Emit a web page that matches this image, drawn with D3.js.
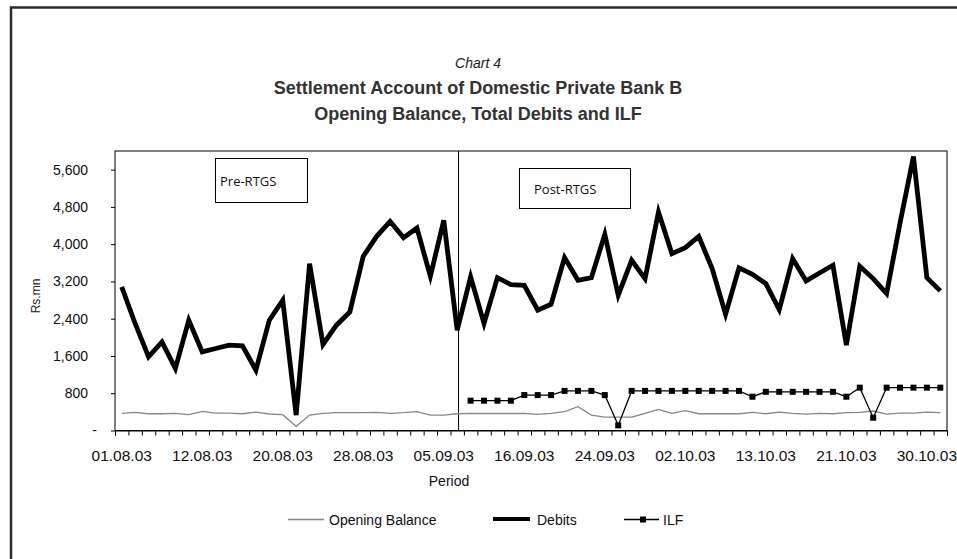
<!DOCTYPE html>
<html>
<head>
<meta charset="utf-8">
<script src="https://cdn.jsdelivr.net/npm/d3@7/dist/d3.min.js"></script>
<style>
  html, body { margin: 0; padding: 0; background: #fff; }
  svg { display: block; font-family: "Liberation Sans", Arial, sans-serif; }
</style>
</head>
<body>
<svg id="chart" width="957" height="559"></svg>
<script>
// Business days, 1 Aug – 31 Oct 2003
const dates = [
  "01.08.03","04.08.03","05.08.03","06.08.03","07.08.03","08.08.03",
  "12.08.03","13.08.03","14.08.03","15.08.03","18.08.03","19.08.03",
  "20.08.03","21.08.03","22.08.03","25.08.03","26.08.03","27.08.03",
  "28.08.03","29.08.03","01.09.03","02.09.03","03.09.03","04.09.03",
  "05.09.03","08.09.03","09.09.03","11.09.03","12.09.03","15.09.03",
  "16.09.03","17.09.03","18.09.03","19.09.03","22.09.03","23.09.03",
  "24.09.03","25.09.03","26.09.03","29.09.03","30.09.03","01.10.03",
  "02.10.03","03.10.03","06.10.03","07.10.03","08.10.03","09.10.03",
  "13.10.03","14.10.03","15.10.03","16.10.03","17.10.03","20.10.03",
  "21.10.03","22.10.03","23.10.03","27.10.03","28.10.03","29.10.03",
  "30.10.03","31.10.03"
];

// Rs. mn
const openingBalance = [
  368,390,360,360,368,339,411,375,375,360,396,354,
  339,90,332,368,382,382,382,390,368,382,404,332,
  332,360,368,365,365,365,368,346,368,404,511,332,
  289,289,289,368,454,368,425,360,360,360,360,390,
  360,396,368,353,368,360,382,390,418,353,375,375,
  396,382
];

const debits = [
  3082,2297,1582,1903,1332,2368,1689,1761,1832,1818,1297,2368,
  2797,330,3583,1847,2261,2546,3740,4168,4490,4140,4347,3311,
  4511,2154,3297,2297,3282,3132,3118,2582,2711,3711,3225,3282,
  4211,2904,3654,3261,4690,3797,3925,4168,3475,2497,3490,3354,
  3154,2597,3690,3211,3382,3547,1832,3525,3261,2940,4454,5883,
  3282,2997
];

// Intraday liquidity facility, available from RTGS go-live
const ilf = [
  null,null,null,null,null,null,null,null,null,null,null,null,
  null,null,null,null,null,null,null,null,null,null,null,null,
  null,null,640,640,640,640,760,760,760,850,850,850,
  760,110,850,850,850,850,850,850,850,850,850,725,
  830,830,830,830,830,830,725,920,275,920,920,920,
  920,920
];

const yTicks = [0, 800, 1600, 2400, 3200, 4000, 4800, 5600];
const xLabelEvery = 6;
const rtgsStart = 25; // index of 08.09.03

const svg = d3.select("#chart");

// outer frame
svg.append("rect")
  .attr("x", 11).attr("y", 7.5)
  .attr("width", 990).attr("height", 600)
  .attr("fill", "none").attr("stroke", "#2b2b2b").attr("stroke-width", 2.5);

// titles
svg.append("text").attr("x", 478).attr("y", 68)
  .attr("text-anchor", "middle").attr("font-style", "italic")
  .attr("font-size", 14).attr("fill", "#222").text("Chart 4");
svg.append("text").attr("x", 478).attr("y", 94)
  .attr("text-anchor", "middle").attr("font-weight", "bold")
  .attr("font-size", 18).attr("fill", "#333")
  .text("Settlement Account of Domestic Private Bank B");
svg.append("text").attr("x", 478).attr("y", 120)
  .attr("text-anchor", "middle").attr("font-weight", "bold")
  .attr("font-size", 18).attr("fill", "#333")
  .text("Opening Balance, Total Debits and ILF");

// plot area
const L = 115, R = 947, T = 151, B = 430.5;
const n = dates.length;
const xb = d3.scaleLinear().domain([0, n]).range([L, R]);
const xc = i => xb(i + 0.5);
const y = d3.scaleLinear().domain([0, 6000]).range([B, T]);

svg.append("rect")
  .attr("x", L).attr("y", T).attr("width", R - L).attr("height", B - T)
  .attr("fill", "none").attr("stroke", "#000").attr("stroke-width", 1);

// y axis (accounting style: zero shown as a dash, set further right)
const yAxis = d3.axisLeft(y).tickValues(yTicks).tickSize(4).tickPadding(23)
  .tickFormat(d => d === 0 ? "-" : d3.format(",")(d));
const gy = svg.append("g").attr("transform", `translate(${L},0)`).call(yAxis);
gy.select(".domain").remove();
gy.selectAll("text").attr("font-size", 14).attr("fill", "#111")
  .attr("font-family", "Liberation Sans, Arial, sans-serif");
gy.selectAll(".tick").filter(d => d === 0).select("text").attr("dx", 9);
gy.selectAll("line").attr("stroke", "#000");

// x axis: ticks between categories
const xAxis = d3.axisBottom(xb).tickValues(d3.range(0, n + 1)).tickSize(5).tickFormat("");
const gx = svg.append("g").attr("transform", `translate(0,${B})`).call(xAxis);
gx.select(".domain").attr("stroke", "#000");
gx.selectAll("line").attr("stroke", "#000");

svg.append("g").selectAll("text")
  .data(dates.map((d, i) => ({ d, i })).filter(o => o.i % xLabelEvery === 0))
  .join("text")
  .attr("x", o => xc(o.i)).attr("y", 461)
  .attr("text-anchor", "middle").attr("font-size", 15.5).attr("fill", "#111")
  .text(o => o.d);

svg.append("text").attr("x", 449).attr("y", 486)
  .attr("text-anchor", "middle").attr("font-size", 14).attr("fill", "#111")
  .text("Period");

svg.append("text")
  .attr("transform", "translate(40,296) rotate(-90)")
  .attr("text-anchor", "middle").attr("font-size", 12).attr("fill", "#222")
  .text("Rs.mn");

// RTGS divider and period boxes
svg.append("line")
  .attr("x1", xb(rtgsStart + 0.6)).attr("x2", xb(rtgsStart + 0.6))
  .attr("y1", T).attr("y2", B)
  .attr("stroke", "#000").attr("stroke-width", 1);

function periodBox(x0, y0, w, h, label, tx) {
  svg.append("rect").attr("x", x0).attr("y", y0).attr("width", w).attr("height", h)
    .attr("fill", "#fff").attr("stroke", "#000").attr("stroke-width", 1);
  svg.append("text").attr("x", tx).attr("y", y0 + h / 2 + 5)
    .attr("font-family", "Open Sans, sans-serif").attr("font-size", 13).attr("fill", "#111")
    .text(label);
}
periodBox(215.5, 158.5, 92, 44, "Pre-RTGS", 220);
periodBox(519.5, 168.5, 111, 40, "Post-RTGS", 534);

// series
const line = d3.line().defined(v => v != null).x((v, i) => xc(i)).y(v => y(v));

svg.append("path").datum(openingBalance)
  .attr("d", line).attr("fill", "none")
  .attr("stroke", "#888").attr("stroke-width", 1.3);

svg.append("path").datum(debits)
  .attr("d", line).attr("fill", "none")
  .attr("stroke", "#000").attr("stroke-width", 4.8).attr("stroke-linejoin", "miter");

svg.append("path").datum(ilf)
  .attr("d", line).attr("fill", "none")
  .attr("stroke", "#000").attr("stroke-width", 1.3);

svg.append("g").selectAll("rect")
  .data(ilf.map((v, i) => ({ v, i })).filter(o => o.v != null))
  .join("rect")
  .attr("x", o => xc(o.i) - 3).attr("y", o => y(o.v) - 3)
  .attr("width", 6).attr("height", 6).attr("fill", "#000");

// legend
const lg = svg.append("g");
lg.append("line").attr("x1", 288).attr("x2", 324).attr("y1", 519.5).attr("y2", 519.5)
  .attr("stroke", "#888").attr("stroke-width", 1.3);
lg.append("text").attr("x", 329).attr("y", 525).attr("font-size", 14).attr("fill", "#111")
  .text("Opening Balance");
lg.append("line").attr("x1", 493).attr("x2", 530).attr("y1", 519).attr("y2", 519)
  .attr("stroke", "#000").attr("stroke-width", 4);
lg.append("text").attr("x", 537).attr("y", 525).attr("font-size", 14).attr("fill", "#111")
  .text("Debits");
lg.append("line").attr("x1", 624).attr("x2", 659).attr("y1", 519.5).attr("y2", 519.5)
  .attr("stroke", "#000").attr("stroke-width", 1.3);
lg.append("rect").attr("x", 640).attr("y", 516.5).attr("width", 6).attr("height", 6).attr("fill", "#000");
lg.append("text").attr("x", 663).attr("y", 525).attr("font-size", 14).attr("fill", "#111")
  .text("ILF");
</script>
</body>
</html>
